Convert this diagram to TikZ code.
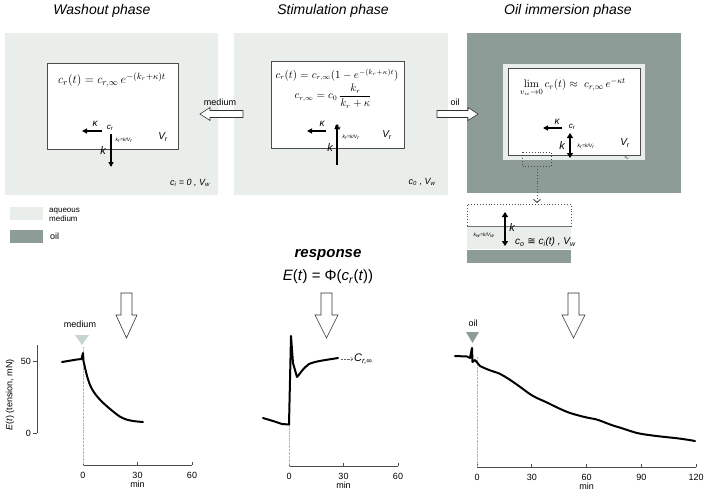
\documentclass[tikz,border=0pt]{standalone}
\usepackage{amsmath}
\usepackage[no-math]{fontspec}
\setmainfont{Liberation Sans}
\newfontfamily\djv{DejaVu Sans}
\usetikzlibrary{arrows.meta}
\definecolor{aq}{HTML}{E9EEEB}
\definecolor{oilc}{HTML}{8E9C98}
\definecolor{medtri}{HTML}{C6D4CF}
\newcommand{\crsub}{\textit{c}\textsubscript{\textit{r}}}
\begin{document}
\begin{tikzpicture}[x=1pt,y=-1pt,
 title/.style={font=\fontsize{14}{16}\selectfont\itshape},
 eq/.style={font=\fontsize{13}{15}\selectfont, inner sep=1pt},
 lab/.style={font=\fontsize{9}{10}\selectfont, inner sep=1pt},
 tinylab/.style={font=\fontsize{5}{6}\selectfont\itshape, inner sep=0.5pt},
 sym/.style={font=\fontsize{10}{11}\selectfont\itshape, inner sep=1pt},
 flux/.style={-{Triangle[length=5pt,width=5pt]}, line width=1.2pt},
 dflux/.style={{Triangle[length=5pt,width=6pt]}-{Triangle[length=5pt,width=6pt]}, line width=1.2pt},
 hollow/.style={draw=black!80, fill=white, line width=0.6pt, line join=miter},
 curve/.style={line width=2pt, line join=round, line cap=round},
 axis/.style={line width=0.6pt, black!70},
 guide/.style={densely dotted, black!30, line width=0.4pt},
 dots/.style={dotted, line width=0.9pt, black!70},
 inner/.style={draw=black!70, fill=white, line width=0.6pt},
]
\useasboundingbox (0,0) rectangle (709,491);

% ---------------- titles
\node[title] (t1) at (102,11) {Washout phase};
\node[title] (t2) at (333,11) {Stimulation phase};
\node[title] (t3) at (568,11) {Oil immersion phase};

% ---------------- washout panel
\fill[aq] (5,33) rectangle (218,195);
\draw[inner] (47,63) rectangle (178,149);
\node[eq] (e1) at (112,80) {$c_r(t) = c_{r,\infty}\, e^{-(k_r+\kappa)t}$};
\node[sym, font=\fontsize{8}{9}\selectfont\itshape] (cr1) at (110,128) {\crsub};
\coordinate (ka1) at (82,131);
\coordinate (kd1) at (111,167);
\draw[flux] (102,131) -- (ka1);
\node[sym] (kl1) at (95,124) {κ};
\draw[flux] (111,134) -- (kd1);
\node[sym, font=\fontsize{11}{12}\selectfont\itshape] (kk1) at (103,151) {k};
\node[tinylab] (kr1) at (124,140) {k\textsubscript{r}=k/V\textsubscript{r}};
\node[sym] (vr1) at (163,137) {V\textsubscript{r}};
\node[lab, font=\fontsize{9}{10}\selectfont\itshape] (cw1) at (190,183) {c\textsubscript{i} = 0 , V\textsubscript{w}};

% ---------------- stimulation panel
\fill[aq] (234,33) rectangle (448,195);
\draw[inner] (271,61) rectangle (404,148);
\node[eq, font=\fontsize{10.5}{12}\selectfont] (e2a) at (337,75) {$c_r(t) = c_{r,\infty}(1-e^{-(k_r+\kappa)t})$};
\node[eq, font=\fontsize{10.5}{12}\selectfont] (e2b) at (333,96) {$c_{r,\infty} = c_0\,\dfrac{k_r}{k_r+\kappa}$};
\node[sym, font=\fontsize{8}{9}\selectfont\itshape] (cr2) at (338,128) {\crsub};
\coordinate (ka2) at (307,131);
\coordinate (ku2) at (337,165);
\draw[flux] (326,131) -- (ka2);
\node[sym] (kl2) at (322,124) {κ};
\draw[flux] (ku2) -- (337,124);
\node[sym, font=\fontsize{11}{12}\selectfont\itshape] (kk2) at (330,148) {k};
\node[tinylab] (kr2) at (351,137) {k\textsubscript{r}=k/V\textsubscript{r}};
\node[sym] (vr2) at (387,135) {V\textsubscript{r}};
\node[lab, font=\fontsize{9}{10}\selectfont\itshape] (cw2) at (422,182) {c\textsubscript{0} , V\textsubscript{w}};

% ---------------- oil panel
\fill[oilc] (467,33) rectangle (681,193);
\fill[aq] (503,64) rectangle (645,160);
\draw[inner] (508,68) rectangle (640,155);
\node[eq, font=\fontsize{11}{13}\selectfont] (e3) at (573,88) {$\lim\limits_{v_w\to 0} c_r(t) \approx\ c_{r,\infty}\, e^{-\kappa t}$};
\node[sym, font=\fontsize{8}{9}\selectfont\itshape] (cr3) at (572,127) {\crsub};
\coordinate (ka3) at (543,128);
\draw[flux] (562,128) -- (ka3);
\node[sym] (kl3) at (557,122) {κ};
\coordinate (kt3) at (570,133);
\coordinate (kb3) at (570,158);
\draw[dflux] (kt3) -- (kb3);
\node[sym, font=\fontsize{11}{12}\selectfont\itshape] (kk3) at (562,146) {k};
\node[tinylab] (kr3) at (586,146) {k\textsubscript{r}=k/V\textsubscript{r}};
\node[sym] (vr3) at (625,143) {V\textsubscript{r}};
\node[tinylab, font=\fontsize{4}{5}\selectfont\itshape] (vw3) at (627,158) {v\textsubscript{w}};
\draw[dots] (522,152) rectangle (551,166);
\coordinate (dtop) at (537,166);
\coordinate (dbot) at (537,203);
\draw[dots, -{Straight Barb[length=3pt,width=7pt]}] (dtop) -- (dbot);

% ---------------- inset
\fill[aq] (467,226) rectangle (571,249);
\fill[oilc] (467,250) rectangle (571,263);
\draw[dots] (467,226) -- (467,204) -- (571,204) -- (571,226);
\draw[black!55, line width=0.6pt] (467,226) -- (571,226);
\coordinate (it) at (505,212);
\coordinate (ib) at (505,246);
\draw[dflux] (it) -- (ib);
\node[sym, font=\fontsize{11}{12}\selectfont\itshape] (ik) at (512,228) {k};
\node[tinylab] (ikw) at (484,235) {k\textsubscript{w}=k/V\textsubscript{w}};
\node[lab, font=\fontsize{10}{11}\selectfont\itshape, anchor=west] (ico) at (514,242) {c\textsubscript{o} {\djv\upshape ≅} c\textsubscript{i}(t) , V\textsubscript{w}};

% ---------------- phase arrows
\node[lab] (lmed) at (220,102) {medium};
\draw[hollow] (200,114) -- (210,107.5) -- (210,110.5) -- (243,110.5) -- (243,117.5) -- (210,117.5) -- (210,120.5) -- cycle;
\node[lab] (loil) at (455,102) {oil};
\draw[hollow] (478,114) -- (468,107.5) -- (468,110.5) -- (437,110.5) -- (437,117.5) -- (468,117.5) -- (468,120.5) -- cycle;

% ---------------- legend
\node[fill=aq, minimum width=33pt, minimum height=13pt, inner sep=0pt] (legaq) at (26.5,213.5) {};
\node[lab, anchor=west, align=left, font=\fontsize{8}{8.5}\selectfont] (legaqt) at (48,215) {aqueous\\medium};
\node[fill=oilc, minimum width=33pt, minimum height=13pt, inner sep=0pt] (legoil) at (26.5,236.5) {};
\node[lab, anchor=west] (legoilt) at (49,236) {oil};

% ---------------- response
\node[font=\fontsize{15}{17}\selectfont\bfseries\itshape] (resp) at (328,255) {response};
\node[font=\fontsize{15}{17}\selectfont] (phi) at (328,277) {\textit{E}(\textit{t}) = Φ(\textit{c}\textsubscript{\textit{r}}(\textit{t}))};

% hollow down arrows
\draw[hollow] (121,293) -- (132,293) -- (132,315) -- (137,315) -- (126.5,338) -- (116,315) -- (121,315) -- cycle;
\draw[hollow] (321,293) -- (332,293) -- (332,315) -- (338,315) -- (326.5,338) -- (315,315) -- (321,315) -- cycle;
\draw[hollow] (568,293) -- (579,293) -- (579,315) -- (585,315) -- (573.5,338) -- (562,315) -- (568,315) -- cycle;

% ---------------- graph 1
\draw[axis] (37,345) -- (37,433);
\draw[axis] (37,361) -- (33,361) (37,433) -- (33,433);
\node[lab, anchor=east] (y50) at (32,361) {50};
\node[lab, anchor=east] (y0) at (32,433) {0};
\node[lab, rotate=90] (ylab) at (10,395) {\textit{E}(\textit{t}) (tension, mN)};
\draw[axis] (83,465) -- (192,465);
\foreach \x/\t in {83/0,137.5/30,192/60} {
  \draw[axis] (\x,465) -- (\x,462);
  \node[lab] at (\x,475) {\t};
}
\node[lab] (min1) at (137.5,484) {min};
\draw[guide] (83,347) -- (83,465);
\node[lab] (gmed) at (80,324) {medium};
\fill[medtri] (75,335) -- (89,335) -- (82,345) -- cycle;
\draw[curve] (62,362) -- (77,359.5) -- (81.5,359) -- (83,353) -- (83.5,361)
  .. controls (86,372) and (88,382) .. (92,389)
  .. controls (97,398) and (105,405) .. (115,413)
  .. controls (122,419) and (128,421) .. (143,422);

% ---------------- graph 2
\draw[axis] (289,466) -- (398,466);
\foreach \x/\t in {289/0,343.5/30,398/60} {
  \draw[axis] (\x,466) -- (\x,463);
  \node[lab] at (\x,476) {\t};
}
\node[lab] (min2) at (343.5,485) {min};
\draw[guide] (289,425) -- (289,466);
\draw[curve] (263,418) -- (273,421) -- (282,424) -- (289,424.5) -- (291,336) -- (293,363) -- (297,377)
  .. controls (300,374) and (303,368) .. (309,364)
  .. controls (316,361) and (326,360) .. (338,358);
\coordinate (g2end) at (341,359);
\node[sym, anchor=west, font=\fontsize{11}{12}\selectfont\itshape] (cinf) at (353,359) {C\textsubscript{r,∞}};
\draw[black!60, line width=0.4pt, densely dotted, -{Straight Barb[length=2pt,width=4pt]}] (g2end) -- (cinf.west);

% ---------------- graph 3
\draw[axis] (477,467) -- (696,467);
\foreach \x/\t in {477/0,531.75/30,586.5/60,641.25/90,696/120} {
  \draw[axis] (\x,467) -- (\x,464);
  \node[lab] at (\x,477) {\t};
}
\node[lab] (min3) at (586.5,486) {min};
\draw[guide] (477,357) -- (477,467);
\node[lab] (goil) at (473,323) {oil};
\fill[oilc] (466,332) -- (479,332) -- (472.5,343) -- cycle;
\draw[curve] (455,356) -- (467,356.5) -- (470,358) -- (472,348) -- (472.5,362) -- (475,360) -- (480,366)
  .. controls (488,370) and (492,371) .. (498,373)
  .. controls (505,376) and (515,383) .. (527,392)
  .. controls (535,398) and (542,400) .. (548,403)
  .. controls (556,407) and (562,410) .. (570,413)
  .. controls (580,416) and (588,418) .. (595,419)
  .. controls (605,422) and (610,425) .. (618,427)
  .. controls (628,430) and (635,433) .. (642,434)
  .. controls (655,436) and (665,437) .. (675,438)
  .. controls (683,439) and (690,440) .. (695,441);
\end{tikzpicture}
\end{document}
